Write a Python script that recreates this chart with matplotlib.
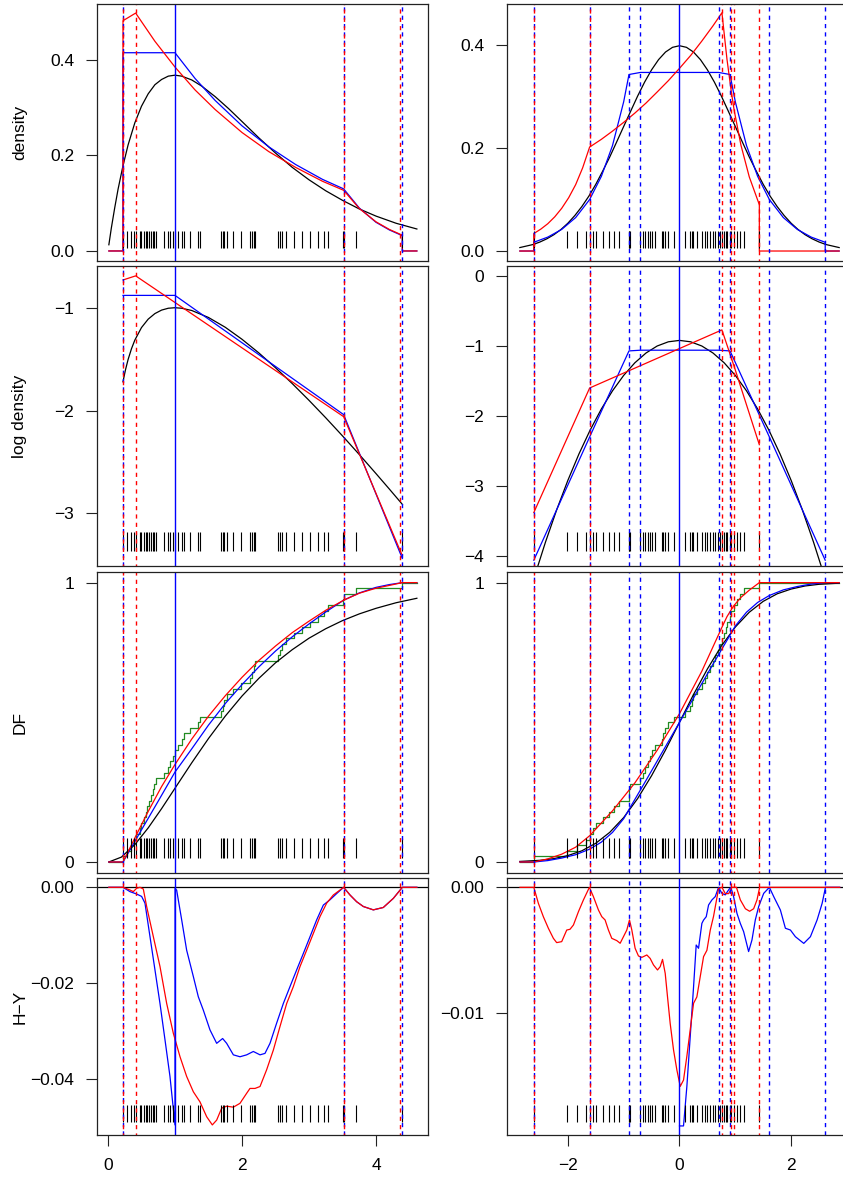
import numpy as np
import matplotlib.pyplot as plt

plt.rcParams['font.family'] = ['Liberation Sans', 'DejaVu Sans']
plt.rcParams['axes.unicode_minus'] = True

# ---- samples (rug) ----
left_sample = [0.224, 0.29, 0.34, 0.39, 0.413, 0.48, 0.50, 0.53, 0.56, 0.58,
               0.61, 0.64, 0.67, 0.69, 0.71, 0.84, 0.89, 0.93, 0.97, 1.0,
               1.05, 1.10, 1.14, 1.22, 1.35, 1.37, 1.69, 1.71, 1.73, 1.78,
               1.86, 1.98, 2.12, 2.15, 2.18, 2.20, 2.53, 2.57, 2.60, 2.65,
               2.77, 2.89, 3.02, 3.14, 3.22, 3.29, 3.50, 3.517, 3.70, 4.393]
right_sample = [-2.61, -2.02, -1.83, -1.68, -1.61, -1.55, -1.49, -1.37, -1.27, -1.17,
                -1.09, -0.91, -0.90, -0.88, -0.70, -0.65, -0.61, -0.57, -0.53, -0.50,
                -0.44, -0.32, -0.29, -0.26, -0.20, -0.09, 0.10, 0.19, 0.22, 0.25,
                0.31, 0.40, 0.46, 0.50, 0.55, 0.60, 0.64, 0.69, 0.72, 0.76,
                0.80, 0.83, 0.85, 0.90, 0.93, 0.98, 1.03, 1.09, 1.16, 1.43]

# ---- knot lines ----
left_red_knots = [0.224, 0.413, 3.517, 4.358]
left_blue_knots = [0.224, 3.517, 4.393]
left_mode = 1.0
right_red_knots = [-2.61, -1.61, 0.76, 0.93, 0.98, 1.43]
right_blue_knots = [-2.61, -1.61, -0.905, -0.70, 0.70, 0.905, 1.61, 2.61]
right_mode = 0.0

# ---- left column: density ----
l_dens_red_x = [0.013, 0.224, 0.224, 0.413, 0.7, 1.0, 1.3, 1.6, 2.0, 2.4, 2.8, 3.2, 3.517,
                3.75, 4.0, 4.2, 4.393, 4.393, 4.61]
l_dens_red_y = [0, 0, 0.482, 0.498, 0.439, 0.385, 0.337, 0.296, 0.248, 0.208, 0.175, 0.146, 0.127,
                0.089, 0.061, 0.045, 0.033, 0, 0]
l_dens_blue_x = [0.013, 0.224, 0.224, 1.0, 1.3, 1.6, 2.0, 2.4, 2.8, 3.2, 3.517, 3.75, 4.0, 4.2,
                 4.393, 4.393, 4.61]
l_dens_blue_y = [0, 0, 0.415, 0.415, 0.361, 0.315, 0.262, 0.218, 0.181, 0.150, 0.130, 0.090, 0.060,
                 0.044, 0.032, 0, 0]
l_dens_black_x = [0.013, 0.05, 0.1, 0.15, 0.22, 0.3, 0.4, 0.5, 0.6, 0.7, 0.8, 0.9, 1.0, 1.1, 1.25,
                  1.4, 1.6, 1.8, 2.0, 2.25, 2.5, 2.75, 3.0, 3.25, 3.5, 3.75, 4.0, 4.3, 4.61]
l_dens_black_y = [0.013, 0.048, 0.090, 0.129, 0.176, 0.222, 0.268, 0.303, 0.329, 0.348, 0.359, 0.366,
                  0.368, 0.366, 0.358, 0.345, 0.323, 0.298, 0.271, 0.237, 0.205, 0.175, 0.149, 0.126,
                  0.106, 0.088, 0.073, 0.058, 0.046]

# ---- left column: log density ----
l_log_red_x = [0.224, 0.413, 3.517, 4.358, 4.393]
l_log_red_y = [-0.73, -0.69, -2.06, -3.36, -3.41]
l_log_blue_x = [0.224, 1.0, 3.517, 4.393]
l_log_blue_y = [-0.88, -0.88, -2.04, -3.44]
l_log_black_x = [0.224, 0.26, 0.3, 0.35, 0.4, 0.5, 0.6, 0.7, 0.8, 0.9, 1.0, 1.1, 1.25, 1.5, 1.75,
                 2.0, 2.25, 2.5, 2.75, 3.0, 3.25, 3.5, 3.75, 4.0, 4.2, 4.393]
l_log_black_y = [-1.72, -1.607, -1.504, -1.40, -1.316, -1.193, -1.111, -1.057, -1.023, -1.005, -1.0,
                 -1.005, -1.027, -1.095, -1.19, -1.307, -1.439, -1.584, -1.738, -1.901, -2.071,
                 -2.247, -2.428, -2.614, -2.765, -2.913]

# ---- left column: distribution functions ----
l_df_red_x = [0.013, 0.224, 0.3, 0.413, 0.6, 0.8, 1.0, 1.25, 1.5, 1.75, 2.0, 2.25, 2.5, 2.75, 3.0,
              3.25, 3.517, 3.75, 4.0, 4.2, 4.393, 4.61]
l_df_red_y = [0, 0, 0.037, 0.092, 0.181, 0.270, 0.349, 0.440, 0.522, 0.595, 0.661, 0.721, 0.773,
              0.821, 0.862, 0.901, 0.937, 0.962, 0.980, 0.990, 1.0, 1.0]
l_df_blue_x = [0.013, 0.224, 0.5, 0.75, 1.0, 1.25, 1.5, 1.75, 2.0, 2.25, 2.5, 2.75, 3.0, 3.25,
               3.517, 3.75, 4.0, 4.2, 4.393, 4.61]
l_df_blue_y = [0, 0, 0.115, 0.218, 0.322, 0.405, 0.49, 0.567, 0.635, 0.698, 0.755, 0.806, 0.852,
               0.895, 0.937, 0.963, 0.983, 0.993, 1.0, 1.0]
l_df_black_x = [0.013, 0.2, 0.4, 0.6, 0.8, 1.0, 1.25, 1.5, 1.75, 2.0, 2.25, 2.5, 2.75, 3.0, 3.25,
                3.5, 3.75, 4.0, 4.3, 4.61]
l_df_black_y = [0.0001, 0.0175, 0.062, 0.122, 0.191, 0.264, 0.355, 0.442, 0.522, 0.594, 0.657, 0.713,
                0.760, 0.801, 0.835, 0.864, 0.888, 0.908, 0.928, 0.944]

# ---- left column: H - Y ----
l_hy_red_x = [0.013, 0.224, 0.328, 0.378, 0.428, 0.478, 0.527, 0.577, 0.677, 0.776, 0.876, 0.975,
              1.075, 1.174, 1.274, 1.373, 1.473, 1.557, 1.622, 1.697, 1.771, 1.871, 1.970, 2.070,
              2.119, 2.194, 2.269, 2.368, 2.468, 2.567, 2.667, 2.766, 2.866, 2.965, 3.065, 3.164,
              3.264, 3.363, 3.517, 3.612, 3.711, 3.811, 3.960, 4.109, 4.259, 4.393, 4.61]
l_hy_red_y = [0, 0, -0.00056, -0.0009, -0.0002, 0, -0.00035, -0.004, -0.0103, -0.0165, -0.0242,
              -0.0304, -0.0353, -0.0394, -0.0426, -0.0447, -0.0478, -0.0495, -0.0485, -0.046,
              -0.0456, -0.0458, -0.045, -0.0429, -0.0419, -0.0419, -0.0415, -0.038, -0.0339,
              -0.029, -0.0242, -0.0207, -0.0165, -0.0131, -0.0096, -0.0061, -0.0033, -0.0016, 0,
              -0.0016, -0.003, -0.004, -0.0047, -0.0042, -0.0023, 0, 0]
l_hy_blue_x = [0.013, 0.224, 0.328, 0.428, 0.502, 0.552, 0.627, 0.701, 0.776, 0.851, 0.925, 1.0,
               1.001, 1.025, 1.1, 1.174, 1.274, 1.348, 1.423, 1.522, 1.622, 1.711, 1.771, 1.871,
               1.970, 2.070, 2.169, 2.269, 2.343, 2.418, 2.517, 2.617, 2.716, 2.816, 2.915, 3.015,
               3.114, 3.214, 3.313, 3.413, 3.517, 3.612, 3.711, 3.811, 3.960, 4.109, 4.259, 4.393,
               4.61]
l_hy_blue_y = [0, 0, -0.0009, -0.0014, -0.0019, -0.0033, -0.0103, -0.0172, -0.0242, -0.0318,
               -0.0394, -0.0495, -0.0002, -0.0006, -0.0068, -0.0131, -0.0186, -0.0228, -0.0256,
               -0.0297, -0.0325, -0.0315, -0.0325, -0.0349, -0.0353, -0.0349, -0.0342, -0.0349,
               -0.0346, -0.0325, -0.0283, -0.0242, -0.0207, -0.0172, -0.0138, -0.0103, -0.0068,
               -0.0037, -0.0026, -0.0013, 0, -0.0016, -0.003, -0.004, -0.0047, -0.0042, -0.0023, 0, 0]

# ---- right column: density ----
r_dens_red_x = [-2.86, -2.61, -2.61, -2.485, -2.36, -2.235, -2.11, -1.985, -1.86, -1.735, -1.61,
                -1.4, -1.2, -1.0, -0.8, -0.6, -0.4, -0.2, 0, 0.2, 0.4, 0.6, 0.76,
                0.85, 0.93, 0.98, 1.1, 1.25, 1.43, 1.43, 2.86]
r_dens_red_y = [0, 0, 0.034, 0.0425, 0.053, 0.0664, 0.083, 0.1036, 0.129, 0.1616, 0.202,
                0.217, 0.233, 0.250, 0.268, 0.2875, 0.309, 0.331, 0.355, 0.380, 0.408, 0.4376,
                0.463, 0.373, 0.308, 0.273, 0.206, 0.144, 0.090, 0, 0]
r_dens_blue_x = [-2.86, -2.61, -2.61, -2.36, -2.11, -1.86, -1.61, -1.4, -1.2, -1.0, -0.905, -0.70,
                 0.70, 0.905, 1.0, 1.2, 1.4, 1.61, 1.86, 2.11, 2.36, 2.61, 2.61, 2.86]
r_dens_blue_y = [0, 0, 0.017, 0.027, 0.042, 0.065, 0.100, 0.145, 0.205, 0.290, 0.343, 0.347,
                 0.347, 0.343, 0.290, 0.205, 0.145, 0.100, 0.065, 0.042, 0.027, 0.017, 0, 0]
r_dens_black_x = [-2.86, -2.625, -2.5, -2.375, -2.25, -2.125, -2.0, -1.875, -1.75, -1.625, -1.5,
                  -1.375, -1.25, -1.125, -1.0, -0.875, -0.75, -0.625, -0.5, -0.375, -0.25, -0.125,
                  0, 0.125, 0.25, 0.375, 0.5, 0.625, 0.75, 0.875, 1.0, 1.125, 1.25, 1.375, 1.5,
                  1.625, 1.75, 1.875, 2.0, 2.125, 2.25, 2.375, 2.5, 2.625, 2.86]
r_dens_black_y = [0.0067, 0.0126, 0.0175, 0.0238, 0.0317, 0.0417, 0.054, 0.0689, 0.0863, 0.1064,
                  0.1295, 0.1554, 0.1826, 0.2121, 0.242, 0.2716, 0.3011, 0.3282, 0.3521, 0.3719,
                  0.3867, 0.3958, 0.3989, 0.3958, 0.3867, 0.3719, 0.3521, 0.3282, 0.3011, 0.2716,
                  0.242, 0.2121, 0.1826, 0.1554, 0.1295, 0.1064, 0.0863, 0.0689, 0.054, 0.0417,
                  0.0317, 0.0238, 0.0175, 0.0126, 0.0067]

# ---- right column: log density ----
r_log_red_x = [-2.61, -1.61, 0.76, 0.93, 0.98, 1.43]
r_log_red_y = [-3.38, -1.60, -0.77, -1.175, -1.294, -2.41]
r_log_blue_x = [-2.61, -1.61, -0.905, -0.70, 0.70, 0.905, 1.61, 2.61]
r_log_blue_y = [-4.06, -2.30, -1.07, -1.06, -1.06, -1.07, -2.30, -4.06]
r_log_black_x = [-2.86, -2.6, -2.4, -2.2, -2.0, -1.8, -1.6, -1.4, -1.2, -1.0, -0.8, -0.6, -0.4,
                 -0.2, 0, 0.2, 0.4, 0.6, 0.8, 1.0, 1.2, 1.4, 1.6, 1.8, 2.0, 2.2, 2.4, 2.6, 2.86]
r_log_black_y = [-5.01, -4.30, -3.80, -3.34, -2.92, -2.54, -2.20, -1.90, -1.64, -1.42, -1.24,
                 -1.10, -1.0, -0.94, -0.92, -0.94, -1.0, -1.10, -1.24, -1.42, -1.64, -1.90, -2.20,
                 -2.54, -2.92, -3.34, -3.80, -4.30, -5.01]

# ---- right column: distribution functions ----
r_df_red_x = [-2.86, -2.61, -2.36, -2.11, -1.86, -1.61, -1.2, -0.8, -0.4, 0, 0.4, 0.76, 0.85,
              0.93, 0.98, 1.1, 1.25, 1.43, 2.86]
r_df_red_y = [0, 0, 0.011, 0.028, 0.053, 0.094, 0.183, 0.283, 0.400, 0.531, 0.683, 0.840, 0.878,
              0.904, 0.919, 0.947, 0.973, 1.0, 1.0]
r_df_blue_x = [-2.86, -2.61, -2.36, -2.11, -1.86, -1.61, -1.4, -1.2, -1.0, -0.905, -0.6, -0.3, 0,
               0.3, 0.6, 0.905, 1.0, 1.2, 1.4, 1.61, 1.86, 2.11, 2.36, 2.61, 2.86]
r_df_blue_y = [0, 0, 0.005, 0.014, 0.026, 0.046, 0.071, 0.106, 0.155, 0.188, 0.292, 0.396, 0.5,
               0.604, 0.708, 0.812, 0.845, 0.894, 0.929, 0.954, 0.974, 0.986, 0.995, 1.0, 1.0]
r_df_black_x = [-2.86, -2.5, -2.25, -2.0, -1.75, -1.5, -1.25, -1.0, -0.75, -0.5, -0.25, 0,
                0.25, 0.5, 0.75, 1.0, 1.25, 1.5, 1.75, 2.0, 2.25, 2.5, 2.86]
r_df_black_y = [0.002, 0.006, 0.012, 0.023, 0.040, 0.067, 0.106, 0.159, 0.227, 0.309, 0.401, 0.5,
                0.599, 0.691, 0.773, 0.841, 0.894, 0.933, 0.960, 0.977, 0.988, 0.994, 0.998]

# ---- right column: H - Y ----
r_hy_red_x = [-2.857, -2.61, -2.528, -2.439, -2.349, -2.259, -2.2, -2.11, -2.02, -1.961, -1.90,
              -1.81, -1.722, -1.614, -1.542, -1.452, -1.392, -1.333, -1.273, -1.213, -1.123,
              -1.063, -1.004, -0.944, -0.896, -0.854, -0.795, -0.735, -0.675, -0.585, -0.526,
              -0.466, -0.394, -0.346, -0.304, -0.256, -0.215, -0.167, -0.107, -0.047, 0.013,
              0.072, 0.132, 0.192, 0.252, 0.311, 0.371, 0.431, 0.491, 0.551, 0.61, 0.70, 0.76,
              0.82, 0.88, 0.94, 1.02, 1.09, 1.18, 1.256, 1.328, 1.388, 1.436, 2.87]
r_hy_red_y = [0, 0, -0.00127, -0.00233, -0.00325, -0.00405, -0.00439, -0.00431, -0.00339,
              -0.00333, -0.00299, -0.00193, -0.00101, 0, -0.00074, -0.0018, -0.00233, -0.00259,
              -0.00339, -0.00405, -0.00423, -0.00444, -0.00392, -0.00339, -0.00259, -0.00339,
              -0.00484, -0.00545, -0.00556, -0.00537, -0.00564, -0.00616, -0.00656, -0.0063,
              -0.00572, -0.00683, -0.00868, -0.0108, -0.0129, -0.0145, -0.0158, -0.0153, -0.0134,
              -0.0113, -0.0092, -0.0087, -0.0071, -0.0055, -0.0050, -0.0034, -0.0023, -0.0001, 0,
              -0.0005, -0.0005, 0, 0, -0.001, -0.0017, -0.0019, -0.0017, -0.001, 0, 0]
r_hy_blue_x = [0.0, 0.072, 0.132, 0.192, 0.252, 0.299, 0.341, 0.401, 0.431, 0.479, 0.521, 0.581,
               0.64, 0.70, 0.76, 0.82, 0.88, 0.92, 0.969, 1.029, 1.089, 1.149, 1.238, 1.298,
               1.358, 1.418, 1.508, 1.61, 1.688, 1.807, 1.897, 1.987, 2.076, 2.226, 2.345, 2.465,
               2.555, 2.615, 2.87]
r_hy_blue_y = [-0.01894, -0.01894, -0.0158, -0.01185, -0.00789, -0.00458, -0.00484, -0.00286,
               -0.0026, -0.00233, -0.0014, -0.001, -0.00074, 0, -0.00048, -0.0006, -0.0002, 0,
               -0.00074, -0.00206, -0.00286, -0.00352, -0.0051, -0.00418, -0.00259, -0.00153,
               -0.00048, 0, -0.00074, -0.0018, -0.00325, -0.00339, -0.00392, -0.00445, -0.00392,
               -0.00259, -0.00127, 0, 0]

# ---- axis settings ----
left_xlim = (-0.164, 4.776)
right_xlim = (-3.09, 3.09)
left_ylims = [(-0.021, 0.517), (-3.513, -0.594), (-0.0394, 1.038), (-0.0516, 0.00194)]
right_ylims = [(-0.0194, 0.480), (-4.143, 0.143), (-0.0394, 1.038), (-0.01966, 0.00074)]
left_yticks = [([0, 0.2, 0.4], ['0.0', '0.2', '0.4']),
               ([-3, -2, -1], ['\u22123', '\u22122', '\u22121']),
               ([0, 1], ['0', '1']),
               ([-0.04, -0.02, 0], ['\u22120.04', '\u22120.02', '0.00'])]
right_yticks = [([0, 0.2, 0.4], ['0.0', '0.2', '0.4']),
                ([-4, -3, -2, -1, 0], ['\u22124', '\u22123', '\u22122', '\u22121', '0']),
                ([0, 1], ['0', '1']),
                ([-0.01, 0], ['\u22120.01', '0.00'])]
left_xticks = ([0, 2, 4], ['0', '2', '4'])
right_xticks = ([-2, 0, 2], ['\u22122', '0', '2'])
row_labels = ['density', 'log density', 'DF', 'H\u2212Y']

W, H = 843, 1182
rows = [(4, 257), (266, 300), (572, 301), (878, 257)]
cols = [(97, 331), (507, 345)]
FS = 12.5
LW = 0.9

fig = plt.figure(figsize=(W / 100, H / 100), dpi=100)


def make_ax(c, r):
    x0, w = cols[c]
    y0, h = rows[r]
    ax = fig.add_axes([x0 / W, 1 - (y0 + h) / H, w / W, h / H])
    for s in ax.spines.values():
        s.set_linewidth(0.9)
        s.set_color('#222222')
    ax.tick_params(axis='both', direction='out', length=8, width=0.8, pad=8.5,
                   labelsize=FS, color='#222222')
    return ax


def knots(ax, sample, red_k, blue_k, mode):
    ax.vlines(sample, 0.05, 0.115, transform=ax.get_xaxis_transform(),
              color='black', lw=0.8)
    for k in blue_k:
        ax.axvline(k, color='blue', lw=1.0, linestyle=(0, (3, 3)))
    for k in red_k:
        ax.axvline(k, color='red', lw=1.0, linestyle=(1.5, (3, 3)))
    ax.axvline(mode, color='blue', lw=1.0)


def ecdf_line(ax, sample, lo, hi):
    xs = np.sort(sample)
    n = len(xs)
    ax.step(np.r_[lo, xs, hi], np.r_[0, np.arange(1, n + 1) / n, 1],
            where='post', color='forestgreen', lw=LW)


col_data = [
    dict(sample=left_sample, red_k=left_red_knots, blue_k=left_blue_knots, mode=left_mode,
         xlim=left_xlim, ylims=left_ylims, yticks=left_yticks, xticks=left_xticks,
         lo=0.013, hi=4.61,
         curves=[
             [(l_dens_black_x, l_dens_black_y, 'black'), (l_dens_blue_x, l_dens_blue_y, 'blue'),
              (l_dens_red_x, l_dens_red_y, 'red')],
             [(l_log_black_x, l_log_black_y, 'black'), (l_log_blue_x, l_log_blue_y, 'blue'),
              (l_log_red_x, l_log_red_y, 'red')],
             [(l_df_black_x, l_df_black_y, 'black'), (l_df_blue_x, l_df_blue_y, 'blue'),
              (l_df_red_x, l_df_red_y, 'red')],
             [(l_hy_blue_x, l_hy_blue_y, 'blue'), (l_hy_red_x, l_hy_red_y, 'red')],
         ]),
    dict(sample=right_sample, red_k=right_red_knots, blue_k=right_blue_knots, mode=right_mode,
         xlim=right_xlim, ylims=right_ylims, yticks=right_yticks, xticks=right_xticks,
         lo=-2.86, hi=2.86,
         curves=[
             [(r_dens_black_x, r_dens_black_y, 'black'), (r_dens_blue_x, r_dens_blue_y, 'blue'),
              (r_dens_red_x, r_dens_red_y, 'red')],
             [(r_log_black_x, r_log_black_y, 'black'), (r_log_blue_x, r_log_blue_y, 'blue'),
              (r_log_red_x, r_log_red_y, 'red')],
             [(r_df_black_x, r_df_black_y, 'black'), (r_df_blue_x, r_df_blue_y, 'blue'),
              (r_df_red_x, r_df_red_y, 'red')],
             [(r_hy_blue_x, r_hy_blue_y, 'blue'), (r_hy_red_x, r_hy_red_y, 'red')],
         ]),
]

for c, cd in enumerate(col_data):
    for r in range(4):
        ax = make_ax(c, r)
        if r == 2:
            ecdf_line(ax, cd['sample'], cd['lo'], cd['hi'])
        if r == 3:
            ax.axhline(0, color='black', lw=LW)
        for xs, ys, colr in cd['curves'][r]:
            ax.plot(xs, ys, color=colr, lw=LW)
        knots(ax, cd['sample'], cd['red_k'], cd['blue_k'], cd['mode'])
        ax.set_xlim(*cd['xlim'])
        ax.set_ylim(*cd['ylims'][r])
        ax.set_yticks(cd['yticks'][r][0])
        ax.set_yticklabels(cd['yticks'][r][1])
        if r == 3:
            ax.set_xticks(cd['xticks'][0])
            ax.set_xticklabels(cd['xticks'][1])
        else:
            ax.set_xticks([])
        if c == 0:
            y0, h = rows[r]
            fig.text(20 / W, 1 - (y0 + h / 2) / H, row_labels[r], rotation=90,
                     ha='center', va='center', fontsize=FS)

fig.savefig('out.png', dpi=100)
